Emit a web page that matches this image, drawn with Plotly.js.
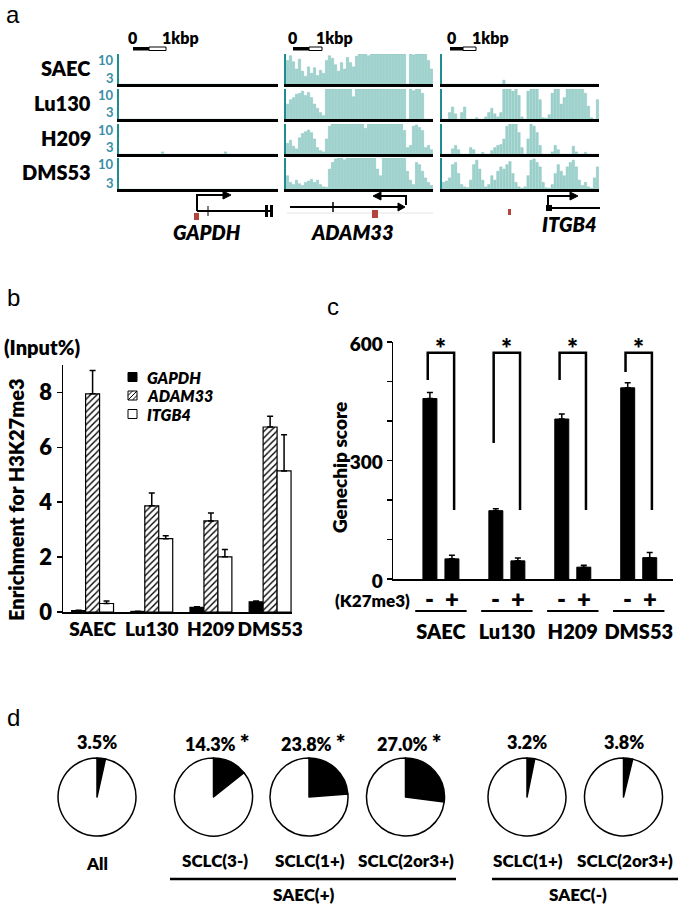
<!DOCTYPE html>
<html>
<head>
<meta charset="utf-8">
<script src="https://cdn.plot.ly/plotly-3.0.1.min.js"></script>
<style>html,body{margin:0;padding:0;background:#fff;}#chart{width:685px;height:905px;}</style>
</head>
<body>
<div id="chart"></div>
<script>
// ================= DATA =================
// panel a : H3K27me3 ChIP-seq signal per bin (track scale 3-10)
const trackCells = ['SAEC', 'Lu130', 'H209', 'DMS53'];
const trackGenes = ['GAPDH', 'ADAM33', 'ITGB4'];

const gapdhSAEC  = [3,3,3,3,3,3,3,3,3,3, 3,3,3,3,3,3,3,3,3,3, 3,3,3,3,3,3,3,3,3,3, 3,3,3,3,3,3,3,3,3,3, 3,3,3,3,3,3,3,3,3,3, 3,3,3];
const gapdhLu130 = [3,3,3,3,3,3,3,3,3,3, 3,3,3,3,3,3,3,3,3,3, 3,3,3,3,3,3,3,3,3,3, 3,3,3,3,3,3,3,3,3,3, 3,3,3,3,3,3,3,3,3,3, 3,3,3];
const gapdhH209  = [3,3,3,3,3,3,3,3,3,3, 3,3,3,3,3.5,3,3,3,3,3, 3,3,3,3,3,3,3,3,3,3, 3,3,3,3,3,3.5,3,3,3,3, 3,3,3,3,3,3,3,3,3,3, 3,3,3];
const gapdhDMS53 = [3,3,3,3,3,3,3,3,3,3, 3,3,3,3,3,3,3,3,3,3, 3,3,3,3,3,3,3,3,3,3, 3,3,3,3,3,3,3,3,3,3, 3,3,3,3,3,3,3,3,3,3, 3,3,3];

const adam33SAEC  = [8.5,9.6,8.2,6.5,8.8,6.0,4.8,7.0,5.5,6.8, 5.0,6.2,5.5,8.5,9.6,9.0,7.5,6.0,8.0,6.5, 9.2,8.0,7.0,9.5,10,10,10,9.6,10,10, 10,10,10,10,10,10,10,10,10,10, 3.0,10,9.8,10,10,10,10,8.5,6.5];
const adam33Lu130 = [6.5,7.5,8.0,8.8,9.0,9.5,8.5,9.2,8.0,6.5, 5.5,4.5,3.8,10,10,10,10,10,10,10, 10,10,8.2,10,10,10,10,10,10,10, 10,10,10,10,10,10,10,10,10,10, 3.0,10,9.6,10,10,9.0,3,3,3];
const adam33H209  = [5.5,6.2,4.8,4.2,6.8,7.8,8.2,8.6,8.0,6.5, 4.5,3.8,3.5,6.5,9.5,10,10,10,10,10, 10,10,10,10,10,10,9.0,10,10,10, 10,10,10,10,10,10,10,10,10,8.5, 4.5,5.0,9.5,9.8,9.2,8.5,4.5,5.0,4.0];
const adam33DMS53 = [6.0,4.5,4.0,5.0,4.2,3.8,4.5,4.8,5.2,4.5, 5.0,4.0,3.5,3.4,7.5,9.0,9.8,10,10,9.6, 10,10,10,10,10,10,10,10,10,10, 7.5,6.0,10,10,10,10,10,10,10,10, 7.0,5.0,4.0,9.0,8.5,7.0,5.5,4.5,3.8];

const itgb4SAEC  = [3,3,3,3,3,3,3,3,3,3, 3,3,3,3,3,3,3,3,3,3, 3.9,3,3,3,3,3,3,3,3,3, 3,3,3,3,3,3,3,3,3,3, 3,3,3,3,3,3,3,3,3,3, 3,3];
const itgb4Lu130 = [3,3,4.5,5.8,4.2,3,4.5,5.8,3,3, 3,3.3,3,3,3.5,4.5,5.5,4.2,3.5,4.5, 10,10,10,9.5,10,8.5,3.5,3,9.5,10, 10,10,7.5,3.3,3.2,4,9,10,10,6.5, 8,10,10,10,10,10,10,9,6,3.3, 3,7.5];
const itgb4H209  = [3,3,3,4.2,5.0,4.0,3,3,3,4.5, 4.0,3,3,3.4,3,3,3.8,4.5,5.0,5.2, 6.5,9.5,10,10,10,8.0,4.5,3,6.5,10, 9.5,8.0,5.0,3,3,3,3.5,5.0,4.0,3, 3,3,3,4.8,3.5,3,3,3.4,3,3, 3,3];
const itgb4DMS53 = [4.5,4.8,5.5,8.5,9.0,6.5,4.0,3.5,3.3,5.0, 8.5,9.5,7.5,5.0,3.5,4.0,6.0,5.0,7.0,8.0, 7.5,8.5,9.2,6.5,4.5,3.5,3.2,3.5,6.0,9.5, 9.8,9.0,8.0,4.5,3.3,3.2,4.0,6.5,8.5,7.0, 6.0,8.0,9.0,9.5,8.0,5.0,3.8,4.5,3.5,3.2, 5.5,8.0];

// panel b : ChIP-qPCR enrichment for H3K27me3 (Input%)
const cellLines = ['SAEC', 'Lu130', 'H209', 'DMS53'];
const chipGenes = ['GAPDH', 'ADAM33', 'ITGB4'];
const chipGAPDH     = [0.05, 0.02, 0.17, 0.37];
const chipGAPDHErr  = [0.01, 0.01, 0.02, 0.03];
const chipADAM33    = [7.95, 3.87, 3.32, 6.74];
const chipADAM33Err = [0.85, 0.47, 0.29, 0.39];
const chipITGB4     = [0.31, 2.67, 2.01, 5.14];
const chipITGB4Err  = [0.09, 0.11, 0.27, 1.32];
const chipTicks = [0, 2, 4, 6, 8];

// panel c : Genechip score, genes without (-) / with (+) K27me3
const k27Marks = ['-', '+'];
const genechipMinus    = [457, 173, 405, 484];
const genechipMinusErr = [15, 5, 13, 13];
const genechipPlus     = [51, 46, 30, 54];
const genechipPlusErr  = [9, 7, 5, 13];
const genechipTicks = [0, 300, 600];

// panel d : proportions
const pieLabels = ['All', 'SCLC(3-)', 'SCLC(1+)', 'SCLC(2or3+)', 'SCLC(1+)', 'SCLC(2or3+)'];
const piePercent = [3.5, 14.3, 23.8, 27.0, 3.2, 3.8];
const pieSignificant = [false, true, true, true, false, false];
const pieGroups = ['SAEC(+)', 'SAEC(-)'];

// ================= LAYOUT HELPERS =================
const W = 685, H = 905;
const FONT = 'Lato, "Open Sans", sans-serif';
const BW = 800;
const px = x => x / W;
const py = y => 1 - y / H;
const annotations = [];
const shapes = [];
function txt(text, x, y, size, o) {
  o = o || {};
  annotations.push(Object.assign({
    text: text, x: px(x), y: py(y), xref: 'paper', yref: 'paper', showarrow: false,
    xanchor: 'center', yanchor: 'middle',
    font: {family: o.family || FONT, size: size, color: o.color || '#000', weight: o.weight || BW, style: o.style || 'normal'}
  }, o.extra || {}));
}
function P(x, y) { return px(x).toFixed(5) + ',' + py(y).toFixed(5); }
function pathShape(d, lw, color, fill) {
  shapes.push({type: 'path', xref: 'paper', yref: 'paper', path: d,
    line: {color: color || '#000', width: lw}, fillcolor: fill || 'rgba(0,0,0,0)'});
}
function rectPx(x0, y0, x1, y1, fill, lw, lc) {
  shapes.push({type: 'rect', xref: 'paper', yref: 'paper', x0: px(x0), x1: px(x1), y0: py(y1), y1: py(y0),
    fillcolor: fill, line: {color: lc || fill, width: lw || 0}});
}

const data = [];
const layout = {
  width: W, height: H, margin: {l: 0, r: 0, t: 0, b: 0},
  paper_bgcolor: '#fff', plot_bgcolor: 'rgba(0,0,0,0)',
  barmode: 'overlay', showlegend: false,
  font: {family: FONT, color: '#000'}
};

// ================= PANEL a =================
const trackData = [
  [gapdhSAEC, adam33SAEC, itgb4SAEC],
  [gapdhLu130, adam33Lu130, itgb4Lu130],
  [gapdhH209, adam33H209, itgb4H209],
  [gapdhDMS53, adam33DMS53, itgb4DMS53]
];
const colX = [[119, 278], [286, 433], [442, 599]];
const rowY = [[54, 84], [89, 119], [124, 154], [158, 189]];
const TEAL = '#1f8c8f';
trackData.forEach((row, r) => row.forEach((vals, c) => {
  const k = r * 3 + c + 1;
  const xs = k === 1 ? '' : String(k);
  data.push({
    type: 'bar', x: vals.map((_, i) => i), y: vals, xaxis: 'x' + xs, yaxis: 'y' + xs,
    width: 0.8, marker: {color: '#9ed2cc', line: {color: '#7fbfba', width: 0.4}},
    hoverinfo: 'skip', name: trackCells[r] + ' ' + trackGenes[c]
  });
  layout['xaxis' + xs] = {domain: [px(colX[c][0]), px(colX[c][1])], anchor: 'y' + xs,
    range: [-0.5, vals.length - 0.5], showline: true, linecolor: '#000', linewidth: 2.5,
    ticks: '', showticklabels: false, showgrid: false, zeroline: false, fixedrange: true};
  layout['yaxis' + xs] = {domain: [py(rowY[r][1]), py(rowY[r][0])], anchor: 'x' + xs,
    range: [3, 10], showline: true, linecolor: TEAL, linewidth: 2,
    ticks: '', showticklabels: false, showgrid: false, zeroline: false, fixedrange: true};
}));
// row labels and scale numbers
trackCells.forEach((name, r) => {
  txt(name, 93, rowY[r][0] + 14, 20, {extra: {xanchor: 'right'}});
  txt('10', 116, rowY[r][0] + 6.5, 13, {color: '#3a8ea6', weight: 700, extra: {xanchor: 'right'}});
  txt('3', 116, rowY[r][1] - 6.5, 13, {color: '#3a8ea6', weight: 700, extra: {xanchor: 'right'}});
});
// 1kbp scale bars
[[133, 149, 166, 132, 180], [293, 309, 322, 292, 334], [450, 463, 476, 452, 490]].forEach(s => {
  rectPx(s[0], 47, s[1], 50.5, '#000', 0);
  rectPx(s[1], 47, s[2], 50.5, '#fff', 1, '#000');
  txt('0', s[3], 37, 16);
  txt('1kbp', s[4], 37, 16);
});
// gene models
const RED = '#b5443c';
// GAPDH
pathShape('M' + P(197, 211) + ' L' + P(197, 195) + ' L' + P(224, 195), 2);
pathShape('M' + P(223, 191) + ' L' + P(231, 195) + ' L' + P(223, 199) + ' Z', 1, '#000', '#000');
pathShape('M' + P(197, 211) + ' L' + P(273, 211), 2);
pathShape('M' + P(208, 206) + ' L' + P(208, 216), 1);
rectPx(265, 205, 268, 217, '#000', 0);
rectPx(270, 205, 273, 217, '#000', 0);
rectPx(194, 213, 199, 220, RED, 0);
// ADAM33
pathShape('M' + P(287, 213) + ' L' + P(433, 213), 1, '#e4e4e4');
pathShape('M' + P(290, 207) + ' L' + P(400, 207), 2);
pathShape('M' + P(398, 203) + ' L' + P(405, 207) + ' L' + P(398, 211) + ' Z', 1, '#000', '#000');
pathShape('M' + P(333, 202) + ' L' + P(333, 212), 1.5);
pathShape('M' + P(406, 205) + ' L' + P(406, 196) + ' L' + P(380, 196), 2);
pathShape('M' + P(381, 192) + ' L' + P(373, 196) + ' L' + P(381, 200) + ' Z', 1, '#000', '#000');
rectPx(372, 210, 378, 218, RED, 0);
// ITGB4
pathShape('M' + P(548, 208) + ' L' + P(548, 196) + ' L' + P(571, 196), 2);
pathShape('M' + P(570, 192) + ' L' + P(578, 196) + ' L' + P(570, 200) + ' Z', 1, '#000', '#000');
pathShape('M' + P(548, 208) + ' L' + P(600, 208), 2);
rectPx(546, 205, 552, 211, '#000', 0);
rectPx(508, 209, 511, 215, RED, 0);
// gene names
txt('GAPDH', 207, 232, 20, {style: 'italic'});
txt('ADAM33', 353, 232, 20, {style: 'italic'});
txt('ITGB4', 569, 224, 20, {style: 'italic'});

// ================= PANEL b =================
const bBarW = 0.236;
const bSpecs = [
  {name: chipGenes[0], y: chipGAPDH, e: chipGAPDHErr, off: -1.5 * bBarW, marker: {color: '#000', line: {color: '#000', width: 1.2}}},
  {name: chipGenes[1], y: chipADAM33, e: chipADAM33Err, off: -0.5 * bBarW, marker: {color: '#fff', line: {color: '#000', width: 1.2},
    pattern: {shape: '/', fgcolor: '#000', bgcolor: '#fff', size: 4.5, solidity: 0.3}}},
  {name: chipGenes[2], y: chipITGB4, e: chipITGB4Err, off: 0.5 * bBarW, marker: {color: '#fff', line: {color: '#000', width: 1.2}}}
];
bSpecs.forEach(s => data.push({
  type: 'bar', name: s.name, x: cellLines, y: s.y, xaxis: 'x13', yaxis: 'y13',
  width: bBarW, offset: s.off, marker: s.marker, hoverinfo: 'skip',
  error_y: {type: 'data', array: s.e, arrayminus: [], symmetric: false, color: '#000', thickness: 1.5, width: 3}
}));
layout.xaxis13 = {domain: [px(63), px(292)], anchor: 'y13', type: 'category', range: [-0.5, 3.37],
  showline: true, linecolor: '#000', linewidth: 1.5, ticks: '', showgrid: false, zeroline: false, tickangle: 0,
  tickfont: {family: FONT, size: 19, weight: BW, color: '#000'}, fixedrange: true};
layout.yaxis13 = {domain: [py(612), py(365)], anchor: 'x13', range: [0, 9], tickvals: chipTicks,
  showline: true, linecolor: '#000', linewidth: 1.5, ticks: 'outside', ticklen: 5, tickwidth: 1.5, tickcolor: '#000',
  showgrid: false, zeroline: false, tickfont: {family: FONT, size: 22, weight: BW, color: '#000'}, fixedrange: true};
txt('Enrichment for H3K27me3', 16, 500, 20, {extra: {textangle: -90}});
txt('(Input%)', 42, 347, 20);
// legend
[377, 395.5, 414].forEach((yc, i) => {
  const x0 = 128, x1 = 137, y0 = yc - 4.5, y1 = yc + 4.5;
  if (i === 0) rectPx(x0, y0, x1, y1, '#000', 1, '#000');
  else rectPx(x0, y0, x1, y1, '#fff', 1, '#000');
  if (i === 1) {
    pathShape('M' + P(x0, y1) + ' L' + P(x1, y0), 1);
    pathShape('M' + P(x0, y0 + 4.5) + ' L' + P(x0 + 4.5, y0), 1);
    pathShape('M' + P(x0 + 4.5, y1) + ' L' + P(x1, y0 + 4.5), 1);
  }
  txt(chipGenes[i], 145, yc, 16, {style: 'italic', extra: {xanchor: 'left'}});
});

// ================= PANEL c =================
const cBarW = 0.212;
[[genechipMinus, genechipMinusErr, -0.167 - cBarW / 2, k27Marks[0]], [genechipPlus, genechipPlusErr, 0.167 - cBarW / 2, k27Marks[1]]].forEach(s => data.push({
  type: 'bar', name: 'K27me3 ' + s[3], x: cellLines, y: s[0], xaxis: 'x14', yaxis: 'y14',
  width: cBarW, offset: s[2], marker: {color: '#000', line: {color: '#000', width: 1}}, hoverinfo: 'skip',
  error_y: {type: 'data', array: s[1], arrayminus: [], symmetric: false, color: '#000', thickness: 1.5, width: 3}
}));
layout.xaxis14 = {domain: [px(393), px(673)], anchor: 'y14', type: 'category', range: [-0.727, 3.52],
  showline: true, linecolor: '#000', linewidth: 1.5, ticks: '', showgrid: false, zeroline: false, tickangle: 0,
  ticklabelstandoff: 34, tickfont: {family: FONT, size: 20, weight: BW, color: '#000'}, fixedrange: true};
layout.yaxis14 = {domain: [py(579), py(342)], anchor: 'x14', range: [0, 600], tickvals: genechipTicks,
  showline: true, linecolor: '#000', linewidth: 1.5, ticks: 'outside', ticklen: 5, tickwidth: 1.5, tickcolor: '#000',
  ticklabelshift: 2,
  minor: {dtick: 100, ticks: 'outside', ticklen: 5, tickwidth: 1.5, tickcolor: '#000', showgrid: false},
  showgrid: false, zeroline: false, tickfont: {family: FONT, size: 19, weight: BW, color: '#000'}, fixedrange: true};
txt('Genechip score', 340, 468, 19, {extra: {textangle: -90}});
// significance brackets
const bracketLeftLow = [504, 344, 504, 524];
cellLines.forEach((cl, i) => {
  shapes.push({type: 'path', xref: 'x14', yref: 'y14',
    path: 'M' + (i - 0.2) + ',' + bracketLeftLow[i] + ' L' + (i - 0.2) + ',573 L' + (i + 0.2) + ',573 L' + (i + 0.2) + ',175',
    line: {color: '#000', width: 2.5}});
  annotations.push({text: '*', x: i, y: 573, xref: 'x14', yref: 'y14', showarrow: false, yanchor: 'middle', yshift: 5,
    font: {family: FONT, size: 26, weight: BW, color: '#000'}});
  k27Marks.forEach((m, j) => annotations.push({text: m, x: i + (j === 0 ? -0.167 : 0.167), y: py(598), xref: 'x14', yref: 'paper',
    showarrow: false, font: {family: FONT, size: 24, weight: BW, color: '#000'}}));
  shapes.push({type: 'line', xref: 'x14', yref: 'paper', x0: i - 0.39, x1: i + 0.39, y0: py(611), y1: py(611),
    line: {color: '#000', width: 2}});
});
txt('(K27me3)', 412, 600, 17, {extra: {xanchor: 'right'}});

// ================= PANEL d =================
const pieCx = [97, 213.5, 309, 405.5, 527, 623.5];
const pieCy = 797, pieR = 39;
piePercent.forEach((v, i) => {
  data.push({type: 'pie', values: [v, 100 - v], sort: false, direction: 'clockwise', rotation: 0,
    marker: {colors: ['#000', '#fff'], line: {color: '#000', width: 1.5}},
    textinfo: 'none', hoverinfo: 'skip', showlegend: false, name: pieLabels[i],
    domain: {x: [px(pieCx[i] - pieR), px(pieCx[i] + pieR)], y: [py(pieCy + pieR), py(pieCy - pieR)]}});
  const star = pieSignificant[i] ? ' <span style="font-size:23px">*</span>' : '';
  txt(v.toFixed(1) + '%' + star, pieCx[i] + (pieSignificant[i] ? 4 : 0), 742, 18);
  txt(pieLabels[i], pieCx[i] + (i === 0 ? 0 : 1), i === 0 ? 863 : 860, 17);
});
shapes.push({type: 'line', xref: 'paper', yref: 'paper', x0: px(170), x1: px(456), y0: py(879), y1: py(879), line: {color: '#000', width: 2.5}});
shapes.push({type: 'line', xref: 'paper', yref: 'paper', x0: px(492), x1: px(678), y0: py(879), y1: py(879), line: {color: '#000', width: 2.5}});
txt(pieGroups[0], 303, 894, 17);
txt(pieGroups[1], 578, 894, 17);

// panel letters
['a', 'b', 'c', 'd'].forEach((l, i) => {
  const pos = [[13, 15], [13, 297], [333, 307], [13, 717]][i];
  txt(l, pos[0], pos[1], 24, {family: '"Liberation Sans", Arial, sans-serif', weight: 400});
});

layout.annotations = annotations;
layout.shapes = shapes;
Plotly.newPlot('chart', data, layout, {staticPlot: true, displayModeBar: false});
</script>
</body>
</html>
